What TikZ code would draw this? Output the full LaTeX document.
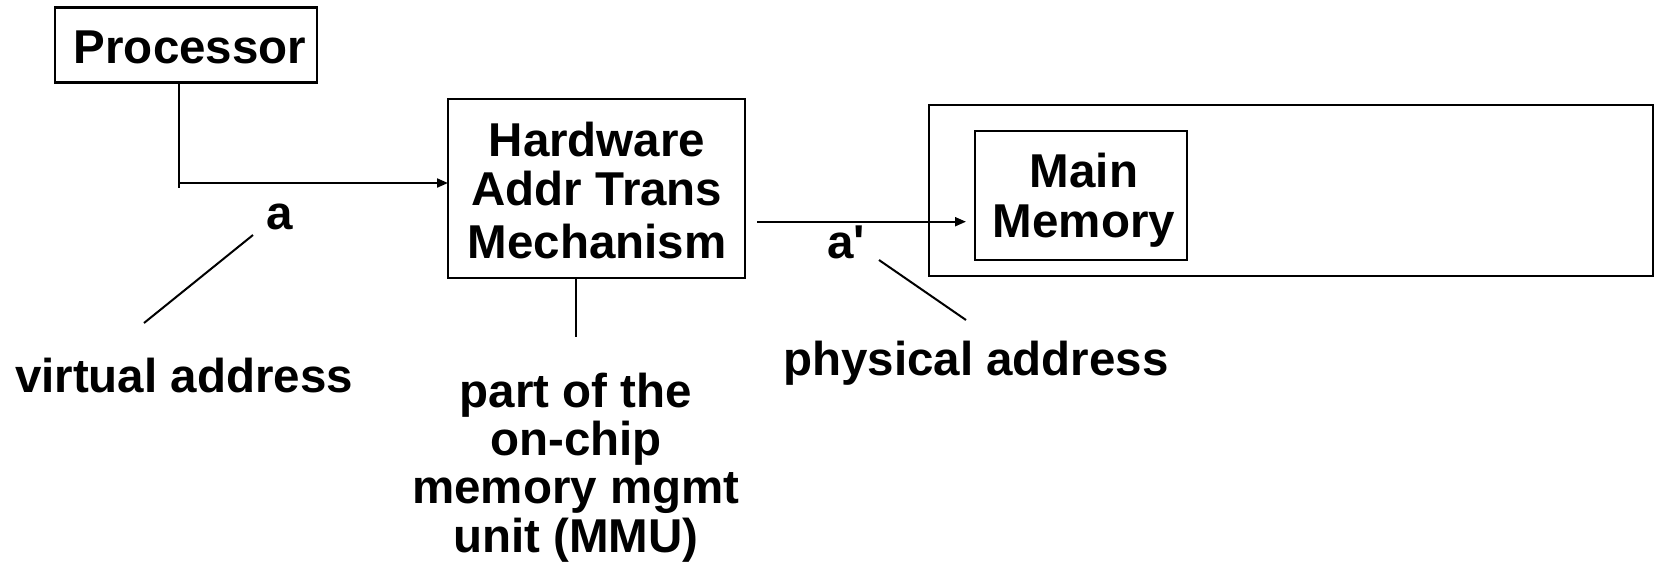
\documentclass[tikz,border=0pt]{standalone}
\usepackage{fontspec}
\setmainfont{Liberation Sans}
\usetikzlibrary{arrows.meta}
\begin{document}
\begin{tikzpicture}[x=1pt,y=-1pt,
  box/.style={draw, line width=2.4pt, inner sep=0pt, outer sep=0pt},
  lbl/.style={anchor=base, inner sep=0pt, font=\bfseries\fontsize{47.5}{51}\selectfont},
  wire/.style={line width=2pt},
  arr/.style={wire, -{Triangle[length=11pt,width=9pt]}}]
\useasboundingbox (0,0) rectangle (1655,566);

% boxes
\node[box, minimum width=262pt, minimum height=75pt] (proc) at (186,45) {};
\node[box, minimum width=297pt, minimum height=179pt] (hw) at (596.5,188.5) {};
\node[box, minimum width=724pt, minimum height=171pt] (mem) at (1291,190.5) {};
\node[box, minimum width=212pt, minimum height=129pt] (mm) at (1081,195.5) {};

% box texts
\node[lbl] (proctxt) at (190,63) {Processor};
\node[lbl] (hw1) at (597,156) {Hardware};
\node[lbl] (hw2) at (597,205) {Addr Trans};
\node[lbl] (hw3) at (597,258) {Mechanism};
\node[lbl] (mm1) at (1084,187) {Main};
\node[lbl] (mm2) at (1084,237) {Memory};

% labels
\node[lbl] (la) at (280,229) {a};
\node[lbl] (lap) at (846,258) {a\textquotesingle};
\node[lbl] (va) at (184,392) {virtual address};
\node[lbl] (pa) at (976,375) {physical address};
\node[lbl] (mmu1) at (576,407) {part of the};
\node[lbl] (mmu2) at (576,455) {on-chip};
\node[lbl] (mmu3) at (576,503) {memory mgmt};
\node[lbl] (mmu4) at (576,552) {unit (MMU)};

% connector points
\coordinate (pdrop) at (179,188);
\coordinate (pturn) at (179,183);
\coordinate (aout) at (757,221.7);
\coordinate (mmuend) at (576,337);
\coordinate (vaA) at (253,235);
\coordinate (vaB) at (144,323);
\coordinate (paA) at (879,260);
\coordinate (paB) at (966,320);

% connectors
\draw[wire] (proc.south -| pdrop) -- (pdrop);
\draw[arr] (pturn) -- (hw.west |- pturn);
\draw[arr, shorten >=9pt] (aout) -- (mm.west |- aout);
\draw[wire] (hw.south -| mmuend) -- (mmuend);
\draw[wire] (vaA) -- (vaB);
\draw[wire] (paA) -- (paB);
\end{tikzpicture}
\end{document}
